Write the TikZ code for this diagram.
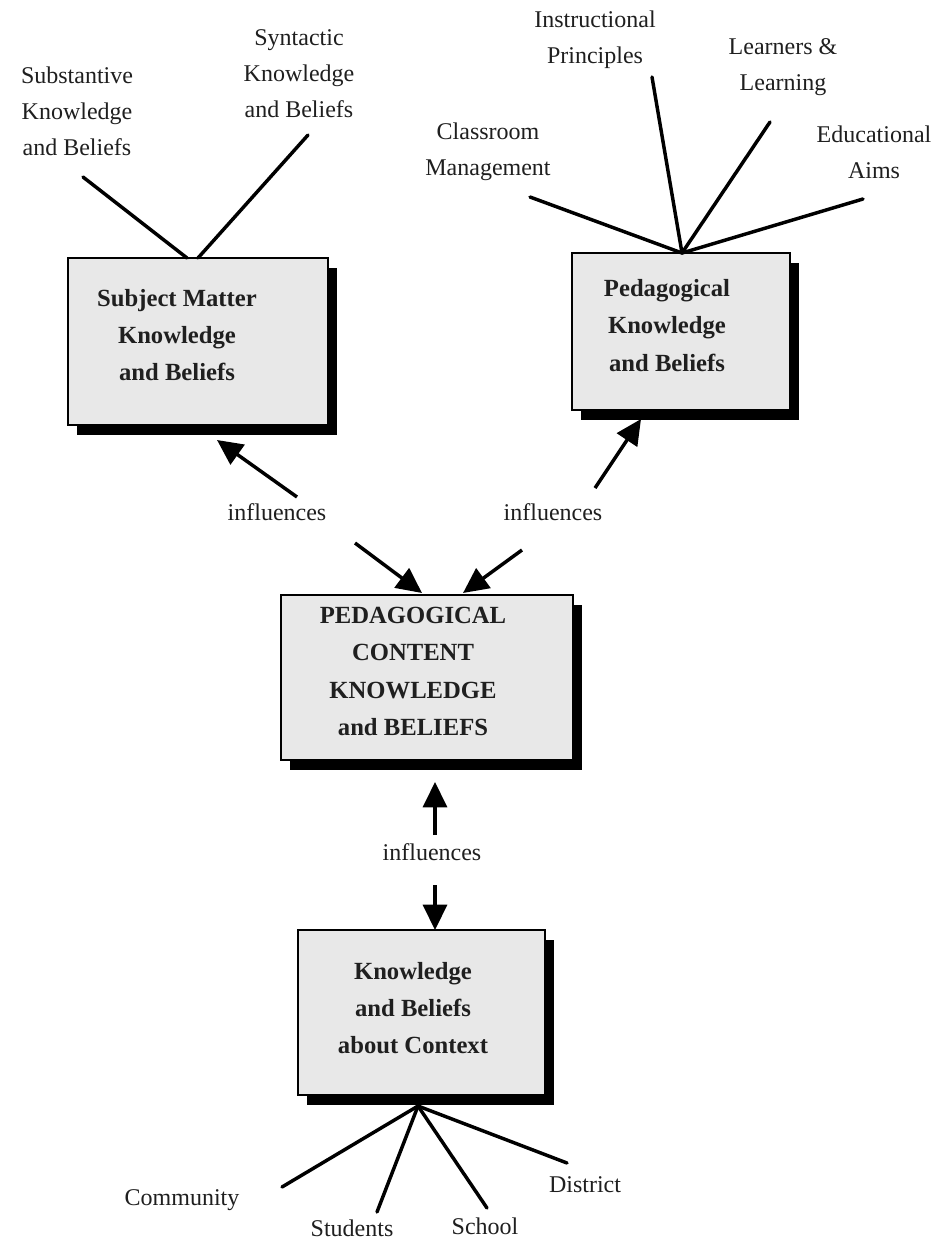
\documentclass[tikz,border=0pt]{standalone}
\usepackage{fontspec}
\setmainfont{Liberation Serif}
\usetikzlibrary{arrows.meta,shadows}

\begin{document}
\begin{tikzpicture}[x=0.75pt,y=-0.75pt,
  box/.style={draw=black, line width=1.7pt, fill=black!9, rectangle, inner sep=0pt,
    drop shadow={shadow xshift=6.75pt, shadow yshift=-7.5pt, opacity=1, fill=black}},
  boxtext/.style={align=center, inner sep=0pt, font=\fontsize{18.5}{28}\selectfont\bfseries, text=black!88},
  lbl/.style={align=center, inner sep=0pt, font=\fontsize{18}{27}\selectfont, text=black!88},
  spoke/.style={line width=2.6pt, line cap=round},
  infl/.style={line width=2.6pt, -{Triangle[length=19pt,width=18pt]}}
]
\useasboundingbox[fill=white] (0,0) rectangle (935,1242);

% ---- the four boxes ----
\node[box, minimum width=195pt, minimum height=125.25pt] (smk) at (198,341.5) {};
\node[box, minimum width=163.5pt, minimum height=117.75pt] (pkb) at (681,331.5) {};
\node[box, minimum width=219pt, minimum height=123.75pt] (pck) at (427,677.5) {};
\node[box, minimum width=185.25pt, minimum height=123.75pt] (ctx) at (421.5,1012.5) {};

\node[boxtext] (smk-t) at (177,335) {Subject Matter\\Knowledge\\and Beliefs};
\node[boxtext] (pkb-t) at (667,325.5) {Pedagogical\\Knowledge\\and Beliefs};
\node[boxtext] (pck-t) at (413,671.5) {PEDAGOGICAL\\CONTENT\\KNOWLEDGE\\and BELIEFS};
\node[boxtext] (ctx-t) at (413,1008) {Knowledge\\and Beliefs\\about Context};

% ---- subject matter components ----
\node[lbl] (subst) at (77,111) {Substantive\\Knowledge\\and Beliefs};
\node[lbl] (synt) at (299,74) {Syntactic\\Knowledge\\and Beliefs};
\coordinate (subst-e) at (83,177);
\coordinate (synt-e) at (308,135);
\coordinate (smk-h1) at (187,258);
\coordinate (smk-h2) at (198,258);
\draw[spoke] (subst-e) -- (smk-h1);
\draw[spoke] (synt-e) -- (smk-h2);

% ---- pedagogical components ----
\node[lbl] (instr) at (595,40) {Instructional\\Principles};
\node[lbl] (learn) at (783,67) {Learners \&\\Learning};
\node[lbl] (class) at (488,152) {Classroom\\Management};
\node[lbl] (aims) at (874,152) {Educational\\Aims};
\coordinate (instr-e) at (652,77);
\coordinate (learn-e) at (770,122);
\coordinate (class-e) at (530,197);
\coordinate (aims-e) at (863,199);
\coordinate (pkb-h) at (682,253);
\draw[spoke] (instr-e) -- (pkb-h);
\draw[spoke] (learn-e) -- (pkb-h);
\draw[spoke] (class-e) -- (pkb-h);
\draw[spoke] (aims-e) -- (pkb-h);

% ---- context components ----
\node[lbl] (comm) at (182,1200) {Community};
\node[lbl] (stud) at (352,1228) {Students};
\node[lbl] (school) at (485,1226) {School};
\node[lbl] (dist) at (585,1185) {District};
\coordinate (comm-e) at (282,1187);
\coordinate (stud-e) at (377,1212);
\coordinate (school-e) at (487,1208);
\coordinate (dist-e) at (567,1163);
\coordinate (ctx-h) at (418,1106);
\draw[spoke] (comm-e) -- (ctx-h);
\draw[spoke] (stud-e) -- (ctx-h);
\draw[spoke] (school-e) -- (ctx-h);
\draw[spoke] (dist-e) -- (ctx-h);

% ---- influences ----
\node[lbl] (inf-l) at (277,512) {influences};
\node[lbl] (inf-r) at (553,512) {influences};
\node[lbl] (inf-c) at (432,852) {influences};

\coordinate (a1s) at (297,497);  \coordinate (a1e) at (217,440);
\coordinate (a2s) at (595,488);  \coordinate (a2e) at (641,419);
\coordinate (a3s) at (355,543);  \coordinate (a3e) at (422,593);
\coordinate (a4s) at (522,550);  \coordinate (a4e) at (463,593);
\coordinate (a5s) at (435,835);  \coordinate (a5e) at (435,782);
\coordinate (a6s) at (435,885);  \coordinate (a6e) at (435,930);
\draw[infl] (a1s) -- (a1e);
\draw[infl] (a2s) -- (a2e);
\draw[infl] (a3s) -- (a3e);
\draw[infl] (a4s) -- (a4e);
\draw[infl] (a5s) -- (a5e);
\draw[infl] (a6s) -- (a6e);
\end{tikzpicture}
\end{document}
